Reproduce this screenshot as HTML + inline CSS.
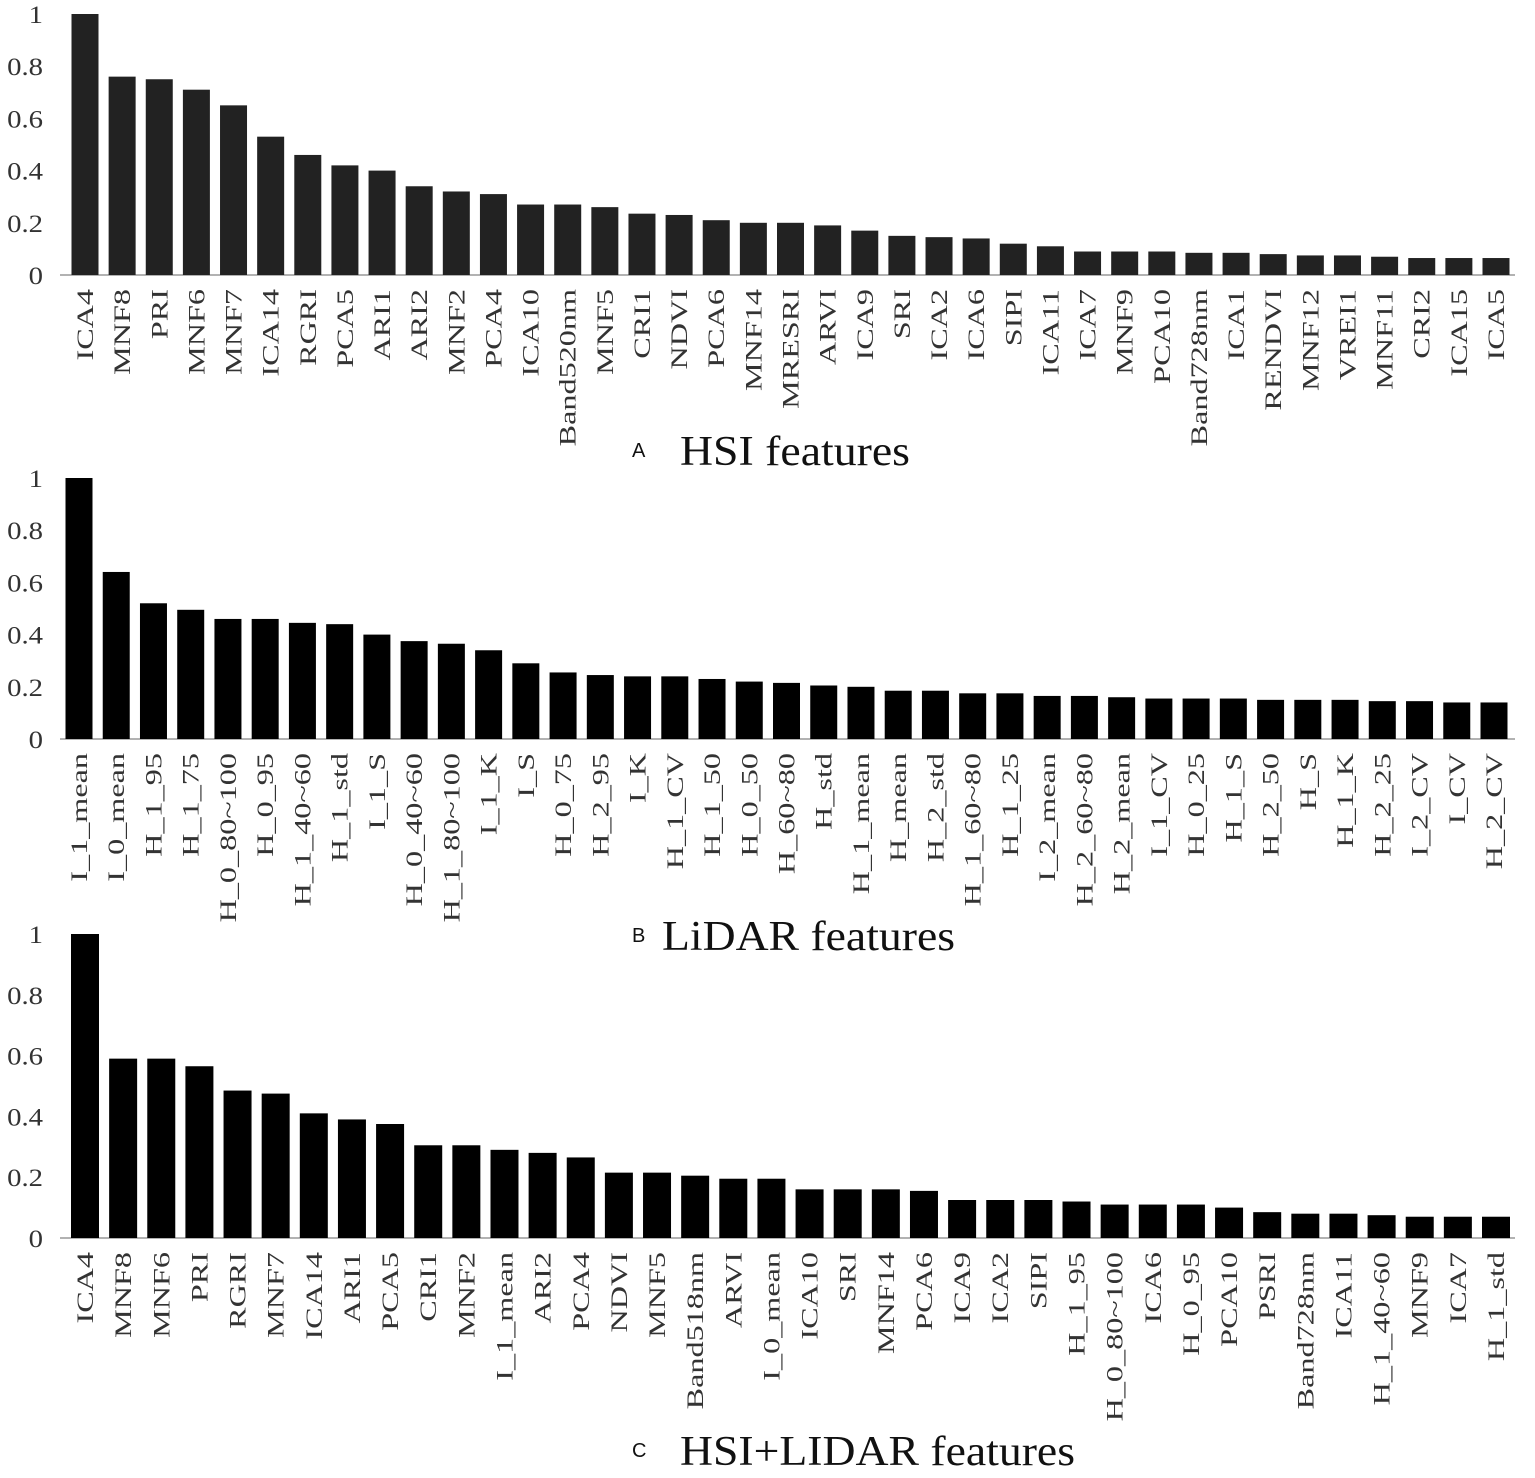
<!DOCTYPE html>
<html><head><meta charset="utf-8"><style>
html,body{margin:0;padding:0;background:#fff;}
svg{display:block;}
</style></head><body>
<svg id="chart" width="1535" height="1478" viewBox="0 0 1535 1478" xmlns="http://www.w3.org/2000/svg"></svg>
<script>
const catsA=["ICA4","MNF8","PRI","MNF6","MNF7","ICA14","RGRI","PCA5","ARI1","ARI2","MNF2","PCA4","ICA10","Band520nm","MNF5","CRI1","NDVI","PCA6","MNF14","MRESRI","ARVI","ICA9","SRI","ICA2","ICA6","SIPI","ICA11","ICA7","MNF9","PCA10","Band728nm","ICA1","RENDVI","MNF12","VREI1","MNF11","CRI2","ICA15","ICA5"];
const valsA=[1,0.76,0.75,0.71,0.65,0.53,0.46,0.42,0.40,0.34,0.32,0.31,0.27,0.27,0.26,0.235,0.23,0.21,0.20,0.20,0.19,0.17,0.15,0.145,0.14,0.12,0.11,0.09,0.09,0.09,0.085,0.085,0.08,0.075,0.075,0.07,0.065,0.065,0.065];
const catsB=["I_1_mean","I_0_mean","H_1_95","H_1_75","H_0_80~100","H_0_95","H_1_40~60","H_1_std","I_1_S","H_0_40~60","H_1_80~100","I_1_K","I_S","H_0_75","H_2_95","I_K","H_1_CV","H_1_50","H_0_50","H_60~80","H_std","H_1_mean","H_mean","H_2_std","H_1_60~80","H_1_25","I_2_mean","H_2_60~80","H_2_mean","I_1_CV","H_0_25","H_1_S","H_2_50","H_S","H_1_K","H_2_25","I_2_CV","I_CV","H_2_CV"];
const valsB=[1,0.64,0.52,0.495,0.46,0.46,0.445,0.44,0.40,0.375,0.365,0.34,0.29,0.255,0.245,0.24,0.24,0.23,0.22,0.215,0.205,0.20,0.185,0.185,0.175,0.175,0.165,0.165,0.16,0.155,0.155,0.155,0.15,0.15,0.15,0.145,0.145,0.14,0.14];
const catsC=["ICA4","MNF8","MNF6","PRI","RGRI","MNF7","ICA14","ARI1","PCA5","CRI1","MNF2","I_1_mean","ARI2","PCA4","NDVI","MNF5","Band518nm","ARVI","I_0_mean","ICA10","SRI","MNF14","PCA6","ICA9","ICA2","SIPI","H_1_95","H_0_80~100","ICA6","H_0_95","PCA10","PSRI","Band728nm","ICA11","H_1_40~60","MNF9","ICA7","H_1_std"];
const valsC=[1,0.59,0.59,0.565,0.485,0.475,0.41,0.39,0.375,0.305,0.305,0.29,0.28,0.265,0.215,0.215,0.205,0.195,0.195,0.16,0.16,0.16,0.155,0.125,0.125,0.125,0.12,0.11,0.11,0.11,0.10,0.085,0.08,0.08,0.075,0.07,0.07,0.07];
const yTicks=[0,0.2,0.4,0.6,0.8,1];
const yTickLabels=["0","0.2","0.4","0.6","0.8","1"];

const NS="http://www.w3.org/2000/svg";
const svg=document.getElementById('chart');
function mk(tag,attrs,parent){const e=document.createElementNS(NS,tag);for(const k in attrs)e.setAttribute(k,attrs[k]);(parent||svg).appendChild(e);return e;}

function panel(id,cats,vals,cfg){
  const g=mk('g',{});
  
  
  const y=v=>cfg.y0-(cfg.y0-cfg.y1)*v;
  const step=(cfg.xLast-cfg.xFirst)/(cats.length-1);
  const x=i=>cfg.xFirst+i*step;
  yTicks.forEach((t,i)=>{
    const tx=mk('text',{x:0,y:0,'text-anchor':'end','font-family':'Liberation Serif, serif','font-size':23,fill:'#333',transform:'translate(43,'+(y(t)+9)+') scale(1.25,1.1)'},g);
    tx.textContent=yTickLabels[i];
    
    
  });
  const ax=mk('line',{x1:60,x2:1515,y1:cfg.y0,y2:cfg.y0,stroke:'#999','stroke-width':1.5},g);
  
  
  cats.forEach((c,i)=>{
    const r=mk('rect',{x:x(i)-cfg.bw/2,y:y(vals[i]),width:cfg.bw,height:cfg.y0-y(vals[i]),fill:cfg.fill},g);
    
    
    const t=mk('text',{x:0,y:0,'text-anchor':'end','font-family':'Liberation Serif, serif','font-size':23,fill:'#333',transform:'translate('+(x(i)+8)+','+(cfg.y0+14)+') rotate(-90) scale(1.4,1)'},g);
    t.textContent=c;
    
    
  });
  const l=mk('text',{x:cfg.lx,y:cfg.ty-8,'font-family':'Liberation Sans, sans-serif','font-size':20,fill:'#111'},g);
  l.textContent=cfg.letter;
  
  
  const tt=mk('text',{x:cfg.tx,y:cfg.ty,'font-family':'Liberation Serif, serif','font-size':42,fill:'#111',textLength:cfg.tw,lengthAdjust:'spacingAndGlyphs'},g);
  tt.textContent=cfg.title;
  
  
}
panel('hsi',catsA,valsA,{y0:275,y1:14,xFirst:85,xLast:1496,bw:27,fill:'#222',letter:'A',title:'HSI features',lx:632,tx:680,ty:465,tw:230});
panel('lidar',catsB,valsB,{y0:739,y1:478,xFirst:79,xLast:1494,bw:27,fill:'#000',letter:'B',title:'LiDAR features',lx:632,tx:662,ty:950,tw:293});
panel('combined',catsC,valsC,{y0:1238,y1:934,xFirst:85,xLast:1496,bw:28,fill:'#000',letter:'C',title:'HSI+LIDAR features',lx:632,tx:680,ty:1465,tw:395});
</script>
</body></html>
